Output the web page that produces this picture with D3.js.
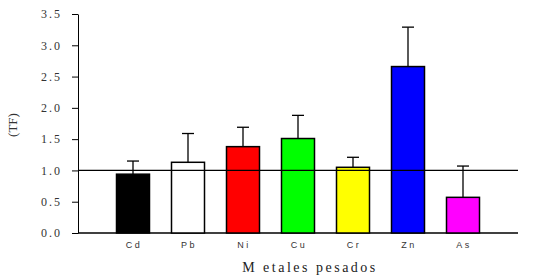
<!DOCTYPE html>
<html>
<head>
<meta charset="utf-8">
<script src="https://cdn.jsdelivr.net/npm/d3@7"></script>
<style>
  body { margin: 0; background: #fff; }
</style>
</head>
<body>
<div id="chart"></div>
<script>
// metals, mean TF and upper error bar
const metals = ["Cd", "Pb", "Ni", "Cu", "Cr", "Zn", "As"];
const tf = [0.94, 1.13, 1.38, 1.51, 1.05, 2.66, 0.57];
const tfErr = [0.21, 0.46, 0.31, 0.37, 0.16, 0.63, 0.50];
const colors = ["#000000", "#ffffff", "#ff0000", "#00ff00", "#ffff00", "#0000ff", "#ff00ff"];
const yTicks = [0, 0.5, 1, 1.5, 2, 2.5, 3, 3.5];
const refLine = 1.0;

const width = 560, height = 277;
const margin = { top: 14, right: 42, bottom: 44, left: 78 };

const svg = d3.select("#chart")
    .append("svg")
    .attr("width", width)
    .attr("height", height);

const xScale = d3.scalePoint()
    .domain(metals)
    .range([margin.left, width - margin.right])
    .padding(1);

const yScale = d3.scaleLinear()
    .domain([0, 3.5])
    .range([height - margin.bottom, margin.top]);

const barW = 33;

// y axis
const yAxis = svg.append("g")
    .attr("transform", "translate(" + margin.left + ",0)")
    .call(d3.axisLeft(yScale).tickValues(yTicks).tickSize(6).tickSizeOuter(0)
        .tickFormat(d => d.toFixed(1)));
yAxis.select(".domain").attr("stroke", "#000");
yAxis.selectAll(".tick line").attr("stroke", "#000");
yAxis.selectAll(".tick text")
    .attr("x", -16)
    .style("font-family", "'Liberation Serif', serif")
    .style("font-size", "12px")
    .style("letter-spacing", "2px")
    .attr("fill", "#333");

// x axis line
svg.append("line")
    .attr("x1", margin.left)
    .attr("x2", width - margin.right)
    .attr("y1", yScale(0))
    .attr("y2", yScale(0))
    .attr("stroke", "#000")
    .attr("stroke-width", 1.3);

// error bars (upper only)
const err = svg.append("g");
metals.forEach((m, i) => {
    const cx = xScale(m);
    err.append("line")
        .attr("x1", cx).attr("x2", cx)
        .attr("y1", yScale(tf[i])).attr("y2", yScale(tf[i] + tfErr[i]))
        .attr("stroke", "#000").attr("stroke-width", 1.3);
    err.append("line")
        .attr("x1", cx - 6).attr("x2", cx + 6)
        .attr("y1", yScale(tf[i] + tfErr[i])).attr("y2", yScale(tf[i] + tfErr[i]))
        .attr("stroke", "#000").attr("stroke-width", 1.3);
});

// bars
svg.append("g")
    .selectAll("rect")
    .data(metals)
    .enter()
    .append("rect")
    .attr("x", d => xScale(d) - barW / 2)
    .attr("y", (d, i) => yScale(tf[i]))
    .attr("width", barW)
    .attr("height", (d, i) => yScale(0) - yScale(tf[i]))
    .attr("fill", (d, i) => colors[i])
    .attr("stroke", "#000")
    .attr("stroke-width", 1.5);

// reference line at TF = 1
svg.append("line")
    .attr("x1", margin.left)
    .attr("x2", width - margin.right)
    .attr("y1", yScale(refLine))
    .attr("y2", yScale(refLine))
    .attr("stroke", "#000")
    .attr("stroke-width", 1.3);

// category labels
svg.append("g")
    .selectAll("text")
    .data(metals)
    .enter()
    .append("text")
    .text(d => d)
    .attr("x", d => xScale(d) + 1)
    .attr("y", yScale(0) + 15)
    .attr("text-anchor", "middle")
    .style("font-family", "'Liberation Sans', Arial, sans-serif")
    .style("font-size", "9px")
    .style("letter-spacing", "2.5px")
    .attr("fill", "#333");

// axis titles
svg.append("text")
    .text("M etales pesados")
    .attr("x", 310)
    .attr("y", 272)
    .attr("text-anchor", "middle")
    .style("font-family", "'Liberation Serif', serif")
    .style("font-size", "14px")
    .style("letter-spacing", "2.5px")
    .attr("fill", "#222");

svg.append("text")
    .text("(TF)")
    .attr("transform", "translate(17,125) rotate(-90)")
    .attr("text-anchor", "middle")
    .style("font-family", "'Liberation Serif', serif")
    .style("font-size", "13px")
    .attr("fill", "#333");
</script>
</body>
</html>
